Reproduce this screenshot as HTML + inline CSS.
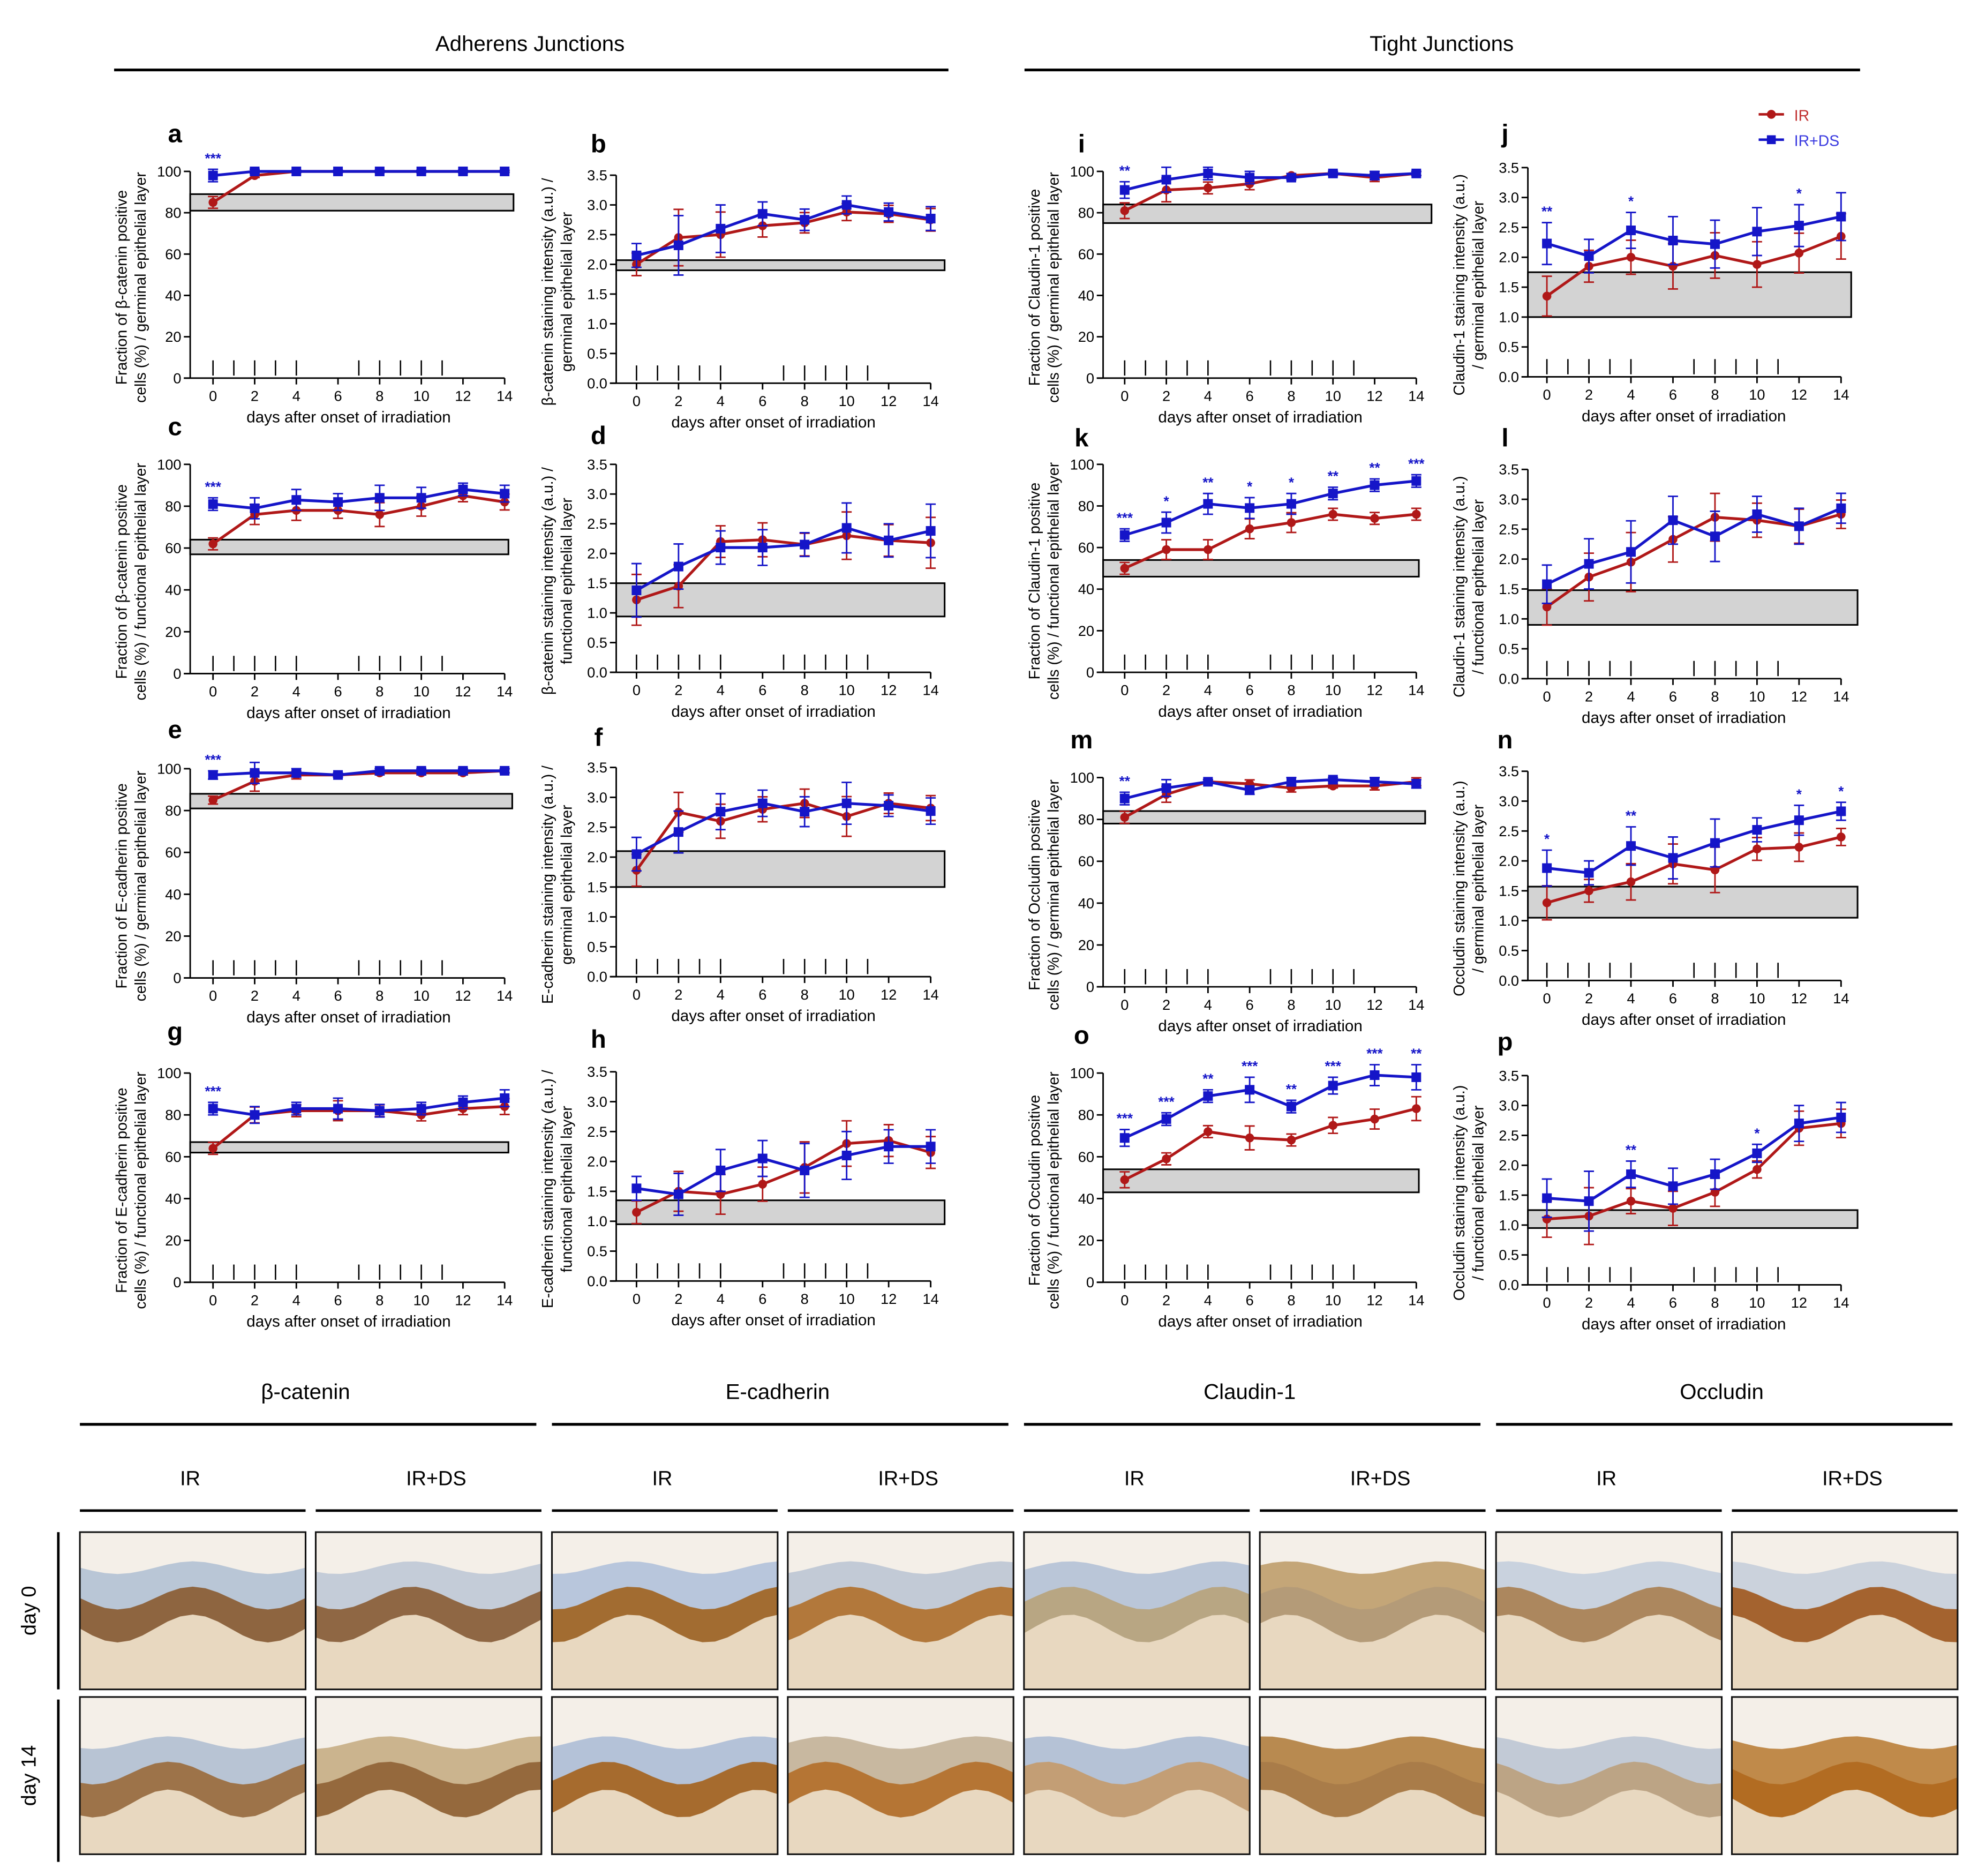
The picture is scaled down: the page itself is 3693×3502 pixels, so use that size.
<!DOCTYPE html>
<html><head><meta charset="utf-8">
<style>
html,body{margin:0;padding:0;background:#fff;}
svg{display:block;}
text{font-family:"Liberation Sans",sans-serif;}
</style></head>
<body>
<svg id="fig" width="3693" height="3502" viewBox="0 0 1560 1479" xmlns="http://www.w3.org/2000/svg">
<rect x="0" y="0" width="1560" height="1479" fill="#fff"/>
<g font-size="17" text-anchor="middle">
<text x="418" y="40">Adherens Junctions</text>
<line x1="90" y1="55" x2="748" y2="55" stroke="#000" stroke-width="2.2"/>
<text x="1137" y="40">Tight Junctions</text>
<line x1="808" y1="55" x2="1467" y2="55" stroke="#000" stroke-width="2.2"/>
</g>
<g id="legend" font-size="12">
<g><line x1="1387" y1="90" x2="1407" y2="90" stroke="#b01818" stroke-width="2"/><circle cx="1397" cy="90" r="3.5" fill="#b01818"/><text x="1415" y="95" fill="#c03030">IR</text></g>
<g><line x1="1387" y1="110" x2="1407" y2="110" stroke="#1515c8" stroke-width="2"/><rect x="1393.5" y="106.5" width="7" height="7" fill="#1515c8"/><text x="1415" y="115" fill="#3a3ae0">IR+DS</text></g>
</g>
<g id="charts"></g>
<g id="micro"></g>
</svg>
<script>
const days=[0,2,4,6,8,10,12,14];
const irrDays=[0,1,2,3,4,7,8,9,10,11];
const pctTicks=[0,20,40,60,80,100];
const intTicks=[0,0.5,1,1.5,2,2.5,3,3.5];
// panel data
const aIR=[85,98,100,100,100,100,100,100], aDS=[98,100,100,100,100,100,100,100], aErr=[3,1,0.5,0.5,0.5,0.5,0.5,0.5], aBand=[81,89], aStars=['***','','','','','','',''];
const bIR=[2.0,2.45,2.5,2.65,2.7,2.88,2.85,2.75], bDS=[2.15,2.32,2.6,2.85,2.75,3.0,2.88,2.77], bErr=[0.2,0.5,0.4,0.2,0.18,0.15,0.15,0.2], bBand=[1.9,2.07], bStars=['','','','','','','',''];
const cIR=[62,76,78,78,76,80,85,82], cDS=[81,79,83,82,84,84,88,86], cErr=[3,5,5,4,6,5,3,4], cBand=[57,64], cStars=['***','','','','','','',''];
const dIR=[1.22,1.45,2.2,2.23,2.15,2.3,2.22,2.18], dDS=[1.38,1.78,2.1,2.1,2.15,2.43,2.22,2.38], dErr=[0.45,0.38,0.28,0.3,0.2,0.42,0.28,0.45], dBand=[0.94,1.5], dStars=['','','','','','','',''];
const eIR=[85,94,97,97,98,98,98,99], eDS=[97,98,98,97,99,99,99,99], eErr=[2,5,2,1,1,1,1,1], eBand=[81,88], eStars=['***','','','','','','',''];
const fIR=[1.78,2.75,2.6,2.8,2.9,2.68,2.9,2.82], fDS=[2.05,2.42,2.76,2.9,2.76,2.9,2.86,2.77], fErr=[0.28,0.35,0.3,0.22,0.25,0.35,0.18,0.22], fBand=[1.5,2.1], fStars=['','','','','','','',''];
const gIR=[64,80,82,82,82,80,83,84], gDS=[83,80,83,83,82,83,86,88], gErr=[3,4,3,5,3,3,3,4], gBand=[62,67], gStars=['***','','','','','','',''];
const hIR=[1.15,1.5,1.45,1.62,1.9,2.3,2.35,2.15], hDS=[1.55,1.45,1.85,2.05,1.85,2.1,2.25,2.25], hErr=[0.2,0.35,0.35,0.3,0.45,0.4,0.28,0.28], hBand=[0.95,1.35], hStars=['','','','','','','',''];
const iIR=[81,91,92,94,98,99,97,99], iDS=[91,96,99,97,97,99,98,99], iErr=[4,6,3,3,1,1,2,1], iBand=[75,84], iStars=['**','','','','','','',''];
const jIR=[1.35,1.85,2.0,1.85,2.03,1.88,2.07,2.35], jDS=[2.23,2.02,2.45,2.28,2.22,2.43,2.53,2.68], jErr=[0.35,0.28,0.3,0.4,0.4,0.4,0.35,0.4], jBand=[1.0,1.75], jStars=['**','','*','','','','*',''];
const kIR=[50,59,59,69,72,76,74,76], kDS=[66,72,81,79,81,86,90,92], kErr=[3,5,5,5,5,3,3,3], kBand=[46,54], kStars=['***','*','**','*','*','**','**','***'];
const lIR=[1.2,1.7,1.95,2.33,2.7,2.65,2.55,2.75], lDS=[1.58,1.92,2.12,2.65,2.38,2.75,2.55,2.85], lErr=[0.32,0.42,0.52,0.4,0.42,0.3,0.3,0.25], lBand=[0.9,1.48], lStars=['','','','','','','',''];
const mIR=[81,92,98,97,95,96,96,98], mDS=[90,95,98,94,98,99,98,97], mErr=[3,4,1,2,2,1,2,2], mBand=[78,84], mStars=['**','','','','','','',''];
const nIR=[1.3,1.5,1.65,1.95,1.85,2.2,2.23,2.4], nDS=[1.88,1.8,2.25,2.05,2.3,2.52,2.68,2.83], nErr=[0.3,0.2,0.32,0.35,0.4,0.2,0.25,0.15], nBand=[1.05,1.57], nStars=['*','','**','','','','*','*'];
const oIR=[49,59,72,69,68,75,78,83], oDS=[69,78,89,92,84,94,99,98], oErr=[4,3,3,6,3,4,5,6], oBand=[43,54], oStars=['***','***','**','***','**','***','***','**'];
const pIR=[1.1,1.15,1.4,1.28,1.55,1.93,2.62,2.7], pDS=[1.45,1.4,1.85,1.65,1.85,2.2,2.7,2.8], pErr=[0.32,0.5,0.22,0.3,0.25,0.15,0.3,0.25], pBand=[0.95,1.25], pStars=['','','**','','','*','',''];

const panels=[
 {id:'a',ir:aIR,ds:aDS,err:aErr,band:aBand,stars:aStars,pct:true,ax:150,x0:168,x1:398,yt:135,yb:298,bandEnd:405,lx:138,ly:112,lab:['Fraction of β-catenin positive','cells (%) / germinal epithelial layer']},
 {id:'b',ir:bIR,ds:bDS,err:bErr,band:bBand,stars:bStars,pct:false,ax:486,x0:502,x1:734,yt:138,yb:302,bandEnd:745,lx:472,ly:120,lab:['β-catenin staining intensity (a.u.) /','germinal epithelial layer']},
 {id:'c',ir:cIR,ds:cDS,err:cErr,band:cBand,stars:cStars,pct:true,ax:150,x0:168,x1:398,yt:366,yb:531,bandEnd:401,lx:138,ly:343,lab:['Fraction of  β-catenin positive','cells (%) / functional epithelial layer']},
 {id:'d',ir:dIR,ds:dDS,err:dErr,band:dBand,stars:dStars,pct:false,ax:486,x0:502,x1:734,yt:366,yb:530,bandEnd:745,lx:472,ly:350,lab:['β-catenin staining intensity (a.u.) /','functional epithelial layer']},
 {id:'e',ir:eIR,ds:eDS,err:eErr,band:eBand,stars:eStars,pct:true,ax:150,x0:168,x1:398,yt:606,yb:771,bandEnd:404,lx:138,ly:582,lab:['Fraction of E-cadherin positive','cells (%) / germinal epithelial layer']},
 {id:'f',ir:fIR,ds:fDS,err:fErr,band:fBand,stars:fStars,pct:false,ax:486,x0:502,x1:734,yt:605,yb:770,bandEnd:745,lx:472,ly:588,lab:['E-cadherin staining intensity (a.u.) /','germinal epithelial layer']},
 {id:'g',ir:gIR,ds:gDS,err:gErr,band:gBand,stars:gStars,pct:true,ax:150,x0:168,x1:398,yt:846,yb:1011,bandEnd:401,lx:138,ly:820,lab:['Fraction of E-cadherin positive','cells (%) / functional epithelial layer']},
 {id:'h',ir:hIR,ds:hDS,err:hErr,band:hBand,stars:hStars,pct:false,ax:486,x0:502,x1:734,yt:845,yb:1010,bandEnd:745,lx:472,ly:826,lab:['E-cadherin staining intensity (a.u.) /','functional epithelial layer']},
 {id:'i',ir:iIR,ds:iDS,err:iErr,band:iBand,stars:iStars,pct:true,ax:870,x0:887,x1:1117,yt:135,yb:298,bandEnd:1129,lx:853,ly:120,lab:['Fraction of Claudin-1 positive','cells (%) / germinal epithelial layer']},
 {id:'j',ir:jIR,ds:jDS,err:jErr,band:jBand,stars:jStars,pct:false,ax:1205,x0:1220,x1:1452,yt:132,yb:297,bandEnd:1460,lx:1187,ly:112,lab:['Claudin-1 staining intensity (a.u.)','/ germinal epithelial layer']},
 {id:'k',ir:kIR,ds:kDS,err:kErr,band:kBand,stars:kStars,pct:true,ax:870,x0:887,x1:1117,yt:366,yb:530,bandEnd:1119,lx:853,ly:352,lab:['Fraction of Claudin-1 positive','cells (%) / functional epithelial layer']},
 {id:'l',ir:lIR,ds:lDS,err:lErr,band:lBand,stars:lStars,pct:false,ax:1205,x0:1220,x1:1452,yt:370,yb:535,bandEnd:1465,lx:1187,ly:352,lab:['Claudin-1 staining intensity (a.u.)','/ functional epithelial layer']},
 {id:'m',ir:mIR,ds:mDS,err:mErr,band:mBand,stars:mStars,pct:true,ax:870,x0:887,x1:1117,yt:613,yb:778,bandEnd:1124,lx:853,ly:590,lab:['Fraction of Occludin positive','cells (%) / germinal epithelial layer']},
 {id:'n',ir:nIR,ds:nDS,err:nErr,band:nBand,stars:nStars,pct:false,ax:1205,x0:1220,x1:1452,yt:608,yb:773,bandEnd:1465,lx:1187,ly:590,lab:['Occludin staining intensity (a.u.)','/ germinal epithelial layer']},
 {id:'o',ir:oIR,ds:oDS,err:oErr,band:oBand,stars:oStars,pct:true,ax:870,x0:887,x1:1117,yt:846,yb:1011,bandEnd:1119,lx:853,ly:823,lab:['Fraction of Occludin positive','cells (%) / functional epithelial layer']},
 {id:'p',ir:pIR,ds:pDS,err:pErr,band:pBand,stars:pStars,pct:false,ax:1205,x0:1220,x1:1452,yt:848,yb:1013,bandEnd:1465,lx:1187,ly:828,lab:['Occludin staining intensity (a.u.)','/ functional epithelial layer']}
];
const NS='http://www.w3.org/2000/svg';
function mk(tag,attrs,parent,txt){const e=document.createElementNS(NS,tag);for(const k in attrs)e.setAttribute(k,attrs[k]);if(txt!==undefined)e.textContent=txt;parent.appendChild(e);return e;}
const charts=document.getElementById('charts');
const RED='#b01818',BLUE='#1515c8';
panels.forEach(p=>{
 const g=mk('g',{},charts);
 
 
 const ymax=p.pct?100:3.5;
 const X=d=>p.x0+(p.x1-p.x0)*d/14;
 const Y=v=>p.yb-(p.yb-p.yt)*v/ymax;
 const lt=mk('text',{x:p.lx,y:p.ly,'font-size':20,'font-weight':'bold','text-anchor':'middle'},g,p.id);
 
 
 const band=mk('rect',{x:p.ax,y:Y(p.band[1]),width:p.bandEnd-p.ax,height:Y(p.band[0])-Y(p.band[1]),fill:'#d3d3d3',stroke:'#000','stroke-width':1.3},g);
 
 
 const ya=mk('line',{x1:p.ax,y1:p.yt,x2:p.ax,y2:p.yb,stroke:'#000','stroke-width':1.2},g);
 
 
 const xa=mk('line',{x1:p.ax-5,y1:p.yb,x2:p.x1,y2:p.yb,stroke:'#000','stroke-width':1.2},g);
 
 
 const ticks=p.pct?pctTicks:intTicks;
 ticks.forEach(t=>{
  mk('line',{x1:p.ax-5,y1:Y(t),x2:p.ax,y2:Y(t),stroke:'#000','stroke-width':1.2},g);
  const tl=mk('text',{x:p.ax-7,y:Y(t)+4,'font-size':11.5,'text-anchor':'end'},g,p.pct?String(t):t.toFixed(1));
  
  
 });
 days.forEach(d=>{
  mk('line',{x1:X(d),y1:p.yb,x2:X(d),y2:p.yb+5,stroke:'#000','stroke-width':1.2},g);
  const tl=mk('text',{x:X(d),y:p.yb+18,'font-size':11.5,'text-anchor':'middle'},g,String(d));
  
  
 });
 irrDays.forEach(d=>{
  const m=mk('line',{x1:X(d),y1:p.yb-14,x2:X(d),y2:p.yb-2,stroke:'#000','stroke-width':1.1},g);
  
  
 });
 const xt=mk('text',{x:(p.x0+p.x1)/2-8,y:p.yb+35,'font-size':12.5,'text-anchor':'middle'},g,'days after onset of irradiation');
 
 
 const cy=(p.yt+p.yb)/2+10, cx=p.ax-50;
 const yt=mk('text',{transform:`translate(${cx},${cy}) rotate(-90)`,'font-size':12,'text-anchor':'middle'},g);
 
 
 mk('tspan',{x:0,y:0},yt,p.lab[0]);
 mk('tspan',{x:0,y:15},yt,p.lab[1]);
 [[p.ir,RED,'ir'],[p.ds,BLUE,'ir-ds']].forEach(([vals,col,nm],si)=>{
  const sg=mk('g',{},g);
  
  
  mk('polyline',{points:vals.map((v,i)=>X(days[i])+','+Y(v)).join(' '),fill:'none',stroke:col,'stroke-width':2.2},sg);
  vals.forEach((v,i)=>{
   const e=p.err[i]*(si?1:0.95);
   const x=X(days[i]);
   mk('path',{d:`M${x},${Y(v+e)}V${Y(v-e)}M${x-4},${Y(v+e)}H${x+4}M${x-4},${Y(v-e)}H${x+4}`,stroke:col,'stroke-width':1.2,fill:'none'},sg);
   let mark;
   if(si===0) mark=mk('circle',{cx:x,cy:Y(v),r:3.5,fill:col},sg);
   else mark=mk('rect',{x:x-3.8,y:Y(v)-3.8,width:7.6,height:7.6,fill:col},sg);
   
   
  });
 });
 p.stars.forEach((s,i)=>{
  if(!s)return;
  const top=Math.max(p.ds[i]+p.err[i],p.ir[i]+p.err[i]);
  const st=mk('text',{x:X(days[i]),y:Y(top)-5,'font-size':11,'font-weight':'bold',fill:BLUE,'text-anchor':'middle'},g,s);
  
  
 });
});
const mg=document.getElementById('micro');
const markers=['β-catenin','E-cadherin','Claudin-1','Occludin'];
const brown=[['#8a5a30','#9a6a3a'],['#8a5c34','#8f6034'],['#a0621e','#a4621c'],['#b06f2a','#b26e28'],['#b8a27a','#c49a6a'],['#b39a78','#a77a48'],['#a87e50','#bba07c'],['#a0561c','#b0681e']];
const blueish=['#b9c6d6','#b8c4d4','#c4ccd8','#cbb48e','#b8c6dc','#b4c2d8','#c2cad6','#c8b8a0','#bac6d8','#b5c2d6','#c4a678','#b88a50','#c9d2de','#c2cad6','#cbd2dc','#c08a4a'];
markers.forEach((m,k)=>{
 const cx=63+k*372.3;
 const t=mk('text',{x:cx+178,y:1103,'font-size':17,'text-anchor':'middle'},mg,m);
 
 
 mk('line',{x1:cx,y1:1123,x2:cx+360,y2:1123,stroke:'#000','stroke-width':2.2},mg);
 ['IR','IR+DS'].forEach((c,j)=>{
  const sx=cx+j*186;
  const ct=mk('text',{x:sx+87+(j?8:0),y:1171,'font-size':16,'text-anchor':'middle'},mg,c);
  
  
  mk('line',{x1:sx,y1:1191,x2:sx+178,y2:1191,stroke:'#000','stroke-width':2},mg);
  [0,1].forEach(r=>{
   const y=1208+r*130, w=178, h=124, idx=k*2+j;
   const ig=mk('g',{},mg);
   
   
   const cid='clip'+idx+'_'+r;
   const cp=mk('clipPath',{id:cid},ig);mk('rect',{x:sx,y:y,width:w,height:h},cp);
   const inner=mk('g',{'clip-path':`url(#${cid})`},ig);
   mk('rect',{x:sx,y:y,width:w,height:h,fill:'#f4efe8'},inner);
   const wave=(base,amp,ph)=>{let d='';for(let i=0;i<=18;i++){const xx=sx+i*w/18;const yy=y+base+amp*Math.sin(i/18*Math.PI*3+ph);d+=(i?'L':'M')+xx.toFixed(1)+','+yy.toFixed(1);}return d;};
   const ph=idx*0.7+r;
   const off=r?8:0;
   mk('path',{d:wave(28+off,5,ph)+`L${sx+w},${y+h}L${sx},${y+h}Z`,fill:blueish[idx*2+r]},inner);
   mk('path',{d:wave(52+off,9,ph)+`L${sx+w},${y+h}L${sx},${y+h}Z`,fill:brown[idx][r],opacity:0.9},inner);
   mk('path',{d:wave(76+off,11,ph)+`L${sx+w},${y+h}L${sx},${y+h}Z`,fill:'#e8d8c0'},inner);
   mk('rect',{x:sx,y:y,width:w,height:h,fill:'none',stroke:'#111','stroke-width':1.3},ig);
  });
 });
});
mk('line',{x1:46,y1:1208,x2:46,y2:1332,stroke:'#000','stroke-width':2},mg);
mk('line',{x1:46,y1:1340,x2:46,y2:1468,stroke:'#000','stroke-width':2},mg);
const d0=mk('text',{transform:'translate(28,1270) rotate(-90)','font-size':16,'text-anchor':'middle'},mg,'day 0');


const d14=mk('text',{transform:'translate(28,1400) rotate(-90)','font-size':16,'text-anchor':'middle'},mg,'day 14');


</script>
</body></html>
